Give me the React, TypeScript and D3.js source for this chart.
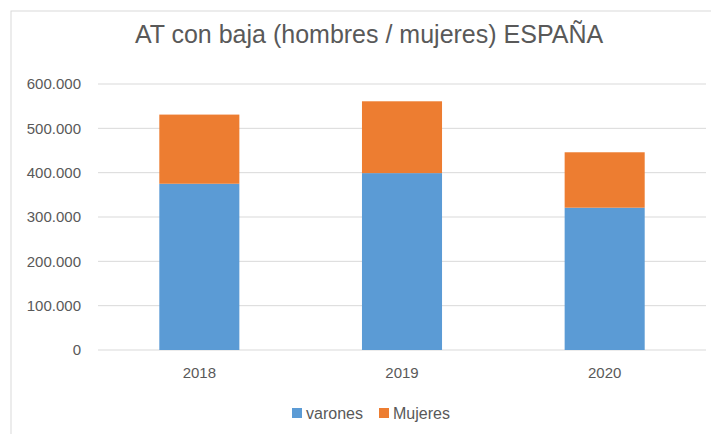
import * as d3 from "d3";

const years = ["2018", "2019", "2020"];
const varones = [375000, 399000, 321000];
const mujeres = [156000, 162000, 125000];
const yTicks = [0, 100000, 200000, 300000, 400000, 500000, 600000];
const seriesNames = ["varones", "Mujeres"];
const seriesColors = ["#5b9bd5", "#ed7d31"];

const width = 711;
const height = 434;
const margin = { top: 84, right: 5, bottom: 84, left: 98 };
const font = "'Liberation Sans', Arial, sans-serif";
const textColor = "#595959";

const fmt = (v: number) => d3.format(",")(v).replace(/,/g, ".");

const App = () => {
    const x = d3
        .scaleBand<string>()
        .domain(years)
        .range([margin.left, width - margin.right])
        .paddingInner(0.605)
        .paddingOuter(0.3025);

    const y = d3
        .scaleLinear()
        .domain([0, 600000])
        .range([height - margin.bottom, margin.top]);

    const rows = years.map((year, i) => ({ year, varones: varones[i], Mujeres: mujeres[i] }));
    const stacked = d3.stack<any>().keys(seriesNames)(rows);

    // legend layout
    const legendX = [292, 379];

    return (
        <svg
            width={width}
            height={height}
            style={{ position: "absolute", left: 0, top: 0, background: "#fff" }}
        >
            <rect x={11} y={11} width={width} height={height} fill="#fff" stroke="#d9d9d9" />
            <text
                x={369}
                y={43}
                textAnchor="middle"
                fontFamily={font}
                fontSize={25}
                fill={textColor}
            >
                AT con baja (hombres / mujeres) ESPAÑA
            </text>

            {yTicks.map((t) => (
                <g key={t}>
                    <line
                        x1={margin.left}
                        x2={width - margin.right}
                        y1={y(t)}
                        y2={y(t)}
                        stroke="#d9d9d9"
                        strokeWidth={1}
                    />
                    <text
                        x={81}
                        y={y(t)}
                        dy="0.35em"
                        textAnchor="end"
                        fontFamily={font}
                        fontSize={15}
                        fill={textColor}
                    >
                        {fmt(t)}
                    </text>
                </g>
            ))}

            {stacked.map((layer, si) =>
                layer.map((d, i) => (
                    <rect
                        key={`${si}-${i}`}
                        x={x(years[i])}
                        y={y(d[1])}
                        width={x.bandwidth()}
                        height={y(d[0]) - y(d[1])}
                        fill={seriesColors[si]}
                    />
                ))
            )}

            {years.map((yr) => (
                <text
                    key={yr}
                    x={(x(yr) as number) + x.bandwidth() / 2}
                    y={373}
                    dy="0.35em"
                    textAnchor="middle"
                    fontFamily={font}
                    fontSize={15}
                    fill={textColor}
                >
                    {yr}
                </text>
            ))}

            {seriesNames.map((name, i) => (
                <g key={name}>
                    <rect x={legendX[i]} y={408} width={10} height={10} fill={seriesColors[i]} />
                    <text
                        x={legendX[i] + 14}
                        y={413}
                        dy="0.35em"
                        fontFamily={font}
                        fontSize={16}
                        fill={textColor}
                    >
                        {name}
                    </text>
                </g>
            ))}
        </svg>
    );
};

export default App;
